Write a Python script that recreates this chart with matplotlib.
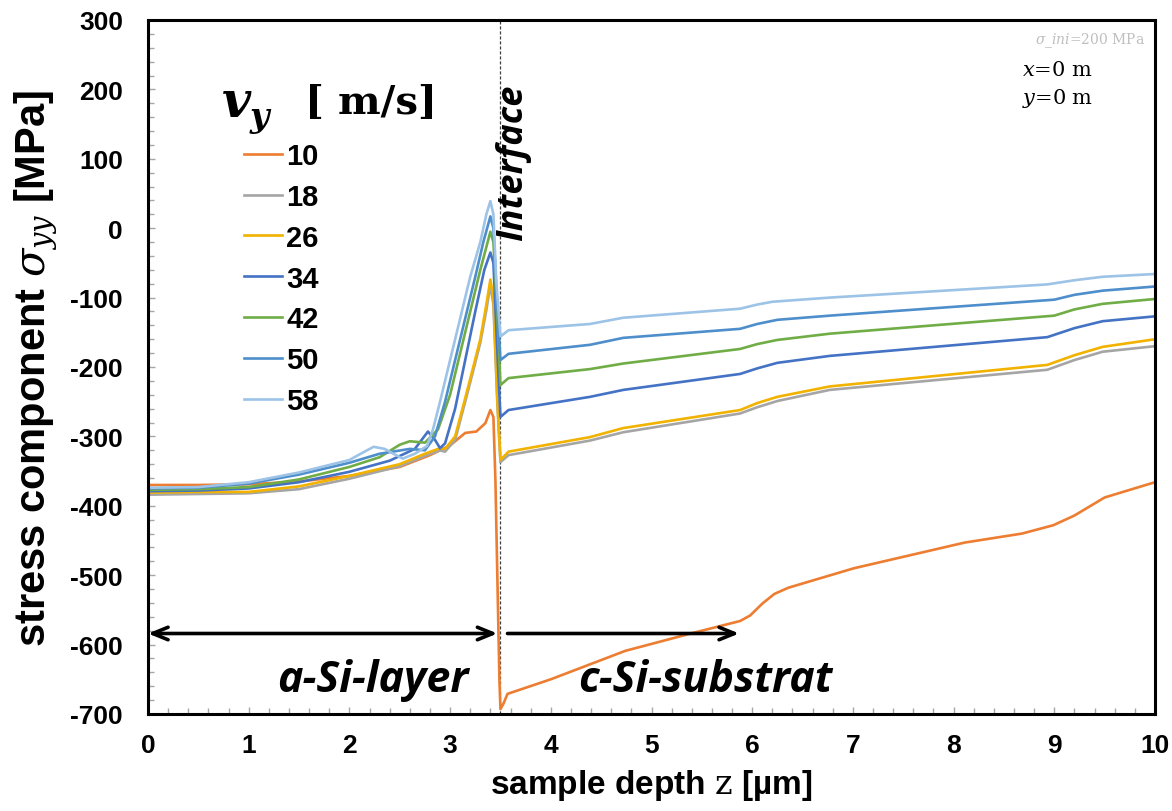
import matplotlib
matplotlib.use("Agg")
import matplotlib.pyplot as plt
from matplotlib.ticker import MultipleLocator

plt.rcParams['mathtext.fontset'] = 'dejavuserif'
plt.rcParams['axes.unicode_minus'] = False

# depth z [um] and stress sigma_yy [MPa] for each scan speed v_y [m/s]
speeds = ['10', '18', '26', '34', '42', '50', '58']
colours = ['#ED7D31', '#A5A5A5', '#F2B200', '#4472C4', '#70AD47', '#4E8ECB', '#9DC3E6']

z_10 = [0, 0.5, 1, 1.5, 2, 2.3, 2.5, 2.8, 3.0, 3.15, 3.26, 3.35, 3.40, 3.43, 3.45, 3.47,
        3.49, 3.5, 3.53, 3.57, 4.0, 4.74, 5.39, 5.88, 5.98, 6.1, 6.22, 6.36, 7.01, 8.11,
        8.68, 8.99, 9.2, 9.5, 10]
s_10 = [-370, -370, -369, -365, -357, -349, -344, -327, -313, -295, -293, -281, -262, -272,
        -363, -508, -652, -693, -685, -671, -650, -609, -584, -566, -558, -541, -527, -518,
        -490, -453, -440, -428, -414, -388, -366]

z_18 = [0, 0.5, 1, 1.5, 2, 2.5, 2.75, 2.9, 2.95, 3.05, 3.15, 3.23, 3.3, 3.36, 3.40, 3.43,
        3.47, 3.5, 3.58, 4.39, 4.72, 5.88, 6.05, 6.25, 6.77, 8.93, 9.2, 9.48, 10]
s_18 = [-384, -383, -382, -376, -361, -343, -328, -320, -322, -305, -250, -205, -165, -118,
        -82, -110, -255, -337, -327, -306, -294, -267, -258, -249, -233, -204, -190, -178,
        -170]

z_26 = [0, 0.5, 1, 1.5, 2, 2.5, 2.75, 2.9, 2.95, 3.05, 3.15, 3.23, 3.3, 3.36, 3.40, 3.43,
        3.47, 3.5, 3.58, 4.39, 4.72, 5.88, 6.05, 6.25, 6.77, 8.93, 9.2, 9.48, 10]
s_26 = [-381, -380, -380, -372, -357, -340, -325, -317, -318, -300, -245, -200, -160, -110,
        -74, -100, -250, -334, -322, -301, -288, -262, -252, -243, -228, -197, -183, -171,
        -160]

z_34 = [0, 0.5, 1, 1.5, 2, 2.4, 2.65, 2.78, 2.85, 2.9, 2.95, 3.05, 3.15, 3.25, 3.34, 3.40,
        3.43, 3.47, 3.5, 3.58, 4.39, 4.72, 5.88, 6.05, 6.25, 6.77, 8.93, 9.2, 9.48, 10]
s_34 = [-379, -378, -375, -366, -351, -335, -318, -293, -305, -317, -310, -260, -190, -120,
        -60, -35, -50, -180, -272, -262, -243, -233, -210, -202, -194, -184, -157, -144, -134,
        -127]

z_42 = [0, 0.5, 1, 1.5, 2, 2.3, 2.5, 2.6, 2.75, 2.88, 3.0, 3.1, 3.2, 3.3, 3.40, 3.43, 3.47,
        3.5, 3.58, 4.39, 4.72, 5.88, 6.05, 6.25, 6.77, 9.0, 9.2, 9.48, 10]
s_42 = [-377, -376, -373, -362, -344, -330, -312, -307, -309, -290, -240, -180, -120, -60,
        -5, -20, -130, -226, -216, -203, -195, -174, -167, -161, -152, -126, -117, -109, -102]

z_50 = [0, 0.5, 1, 1.5, 2, 2.3, 2.6, 2.75, 2.85, 2.95, 3.05, 3.15, 3.25, 3.33, 3.40, 3.43,
        3.46, 3.5, 3.58, 4.39, 4.72, 5.88, 6.05, 6.25, 6.77, 9.0, 9.2, 9.48, 10]
s_50 = [-375, -374, -368, -355, -338, -325, -318, -320, -300, -250, -190, -130, -70, -20,
        17, 0, -90, -190, -181, -168, -158, -145, -138, -132, -126, -103, -96, -90, -84]

z_58 = [0, 0.5, 1, 1.5, 2, 2.15, 2.24, 2.35, 2.45, 2.53, 2.65, 2.77, 2.83, 2.9, 3.0, 3.1,
        3.2, 3.3, 3.36, 3.40, 3.43, 3.46, 3.5, 3.58, 4.39, 4.72, 5.88, 6.05, 6.2, 6.77, 8.93,
        9.2, 9.48, 10]
s_58 = [-374, -373, -366, -352, -334, -322, -315, -318, -326, -332, -325, -314, -290, -250,
        -190, -130, -70, -20, 20, 39, 20, -80, -156, -147, -138, -129, -116, -110, -106, -100,
        -81, -75, -70, -66]

depths = [z_10, z_18, z_26, z_34, z_42, z_50, z_58]
stresses = [s_10, s_18, s_26, s_34, s_42, s_50, s_58]

interface_z = 3.5

fig = plt.figure(figsize=(11.72, 8.12), dpi=100)
ax = fig.add_axes([148 / 1172, 1 - 715 / 812, 1007 / 1172, 694 / 812])

lines = []
for z, s, c, lab in zip(depths, stresses, colours, speeds):
    ln, = ax.plot(z, s, color=c, lw=1.9, label=lab, solid_joinstyle='round')
    lines.append(ln)

ax.axvline(interface_z, color='#404040', lw=0.9, ls=(0, (2.5, 1.5)), zorder=1)

ax.set_xlim(0, 10)
ax.set_ylim(-700, 300)
ax.xaxis.set_major_locator(MultipleLocator(1))
ax.xaxis.set_minor_locator(MultipleLocator(0.2))
ax.yaxis.set_major_locator(MultipleLocator(100))
ax.yaxis.set_minor_locator(MultipleLocator(20))
ax.tick_params(which='both', direction='in', color='#A6A6A6', width=1)
ax.tick_params(which='major', length=5)
ax.tick_params(which='minor', length=4)
ax.tick_params(axis='x', which='major', pad=14)
ax.tick_params(axis='y', which='major', pad=18)
for lbl in ax.get_xticklabels() + ax.get_yticklabels():
    lbl.set_family('Liberation Sans')
    lbl.set_fontweight('bold')
    lbl.set_fontsize(19)
for sp in ax.spines.values():
    sp.set_linewidth(2.2)
    sp.set_color('black')

ax.set_xlabel(r'sample depth $\mathrm{z}$ [µm]', family='Liberation Sans', fontweight='bold',
              fontsize=24, labelpad=7)
ax.set_ylabel(r'stress component $\sigma_{yy}$ [MPa]', family='Liberation Sans',
              fontweight='bold', fontsize=30, labelpad=8)

# legend with a separate title
fig.text(222 / 1172, 1 - 117 / 812, 'v', family='DejaVu Serif', fontweight='bold',
         style='italic', fontsize=36, va='baseline', ha='left')
fig.text(250 / 1172, 1 - 127 / 812, 'y', family='DejaVu Serif', fontweight='bold',
         style='italic', fontsize=24, va='baseline', ha='left')
fig.text(305 / 1172, 1 - 103 / 812, '[ m/s]', family='DejaVu Serif', fontweight='bold',
         fontsize=29, va='center', ha='left')
ax.legend(handles=lines, loc='upper left', bbox_to_anchor=(244 / 1172, 1 - 143 / 812),
          bbox_transform=fig.transFigure, frameon=False, borderpad=0, borderaxespad=0,
          handlelength=1.3, handletextpad=0.15, labelspacing=0.44,
          prop={'family': 'Liberation Sans', 'weight': 'bold', 'size': 21})

ax.text(3.63, 0.908, 'Interface', transform=ax.get_xaxis_transform(), rotation=90,
        family='Open Sans', fontweight='bold', style='italic', fontsize=26,
        ha='center', va='top')

# layer arrows
ax.annotate('', xy=(0, -584), xytext=(3.47, -584),
            arrowprops=dict(arrowstyle='<->, head_length=1.1, head_width=0.45', lw=2.6,
                            color='black', shrinkA=0, shrinkB=0))
ax.annotate('', xy=(5.87, -584), xytext=(3.57, -584),
            arrowprops=dict(arrowstyle='->, head_length=1.1, head_width=0.45', lw=2.6,
                            color='black', shrinkA=0, shrinkB=0))
ax.text(1.28, -650, 'a-Si-layer', family='Open Sans', fontweight='bold', style='italic',
        fontsize=31, ha='left', va='center')
ax.text(4.27, -650, 'c-Si-substrat', family='Open Sans', fontweight='bold', style='italic',
        fontsize=31, ha='left', va='center')

ax.text(0.99, 0.985, r'$\sigma\_ini$=200 MPa', transform=ax.transAxes, family='DejaVu Serif',
        fontsize=10, color='#BFBFBF', ha='right', va='top')
ax.text(0.868, 0.929, '$x$=0 m', transform=ax.transAxes, family='DejaVu Serif',
        fontsize=15, ha='left', va='center')
ax.text(0.868, 0.889, '$y$=0 m', transform=ax.transAxes, family='DejaVu Serif',
        fontsize=15, ha='left', va='center')

fig.savefig('out.png', dpi=100)
